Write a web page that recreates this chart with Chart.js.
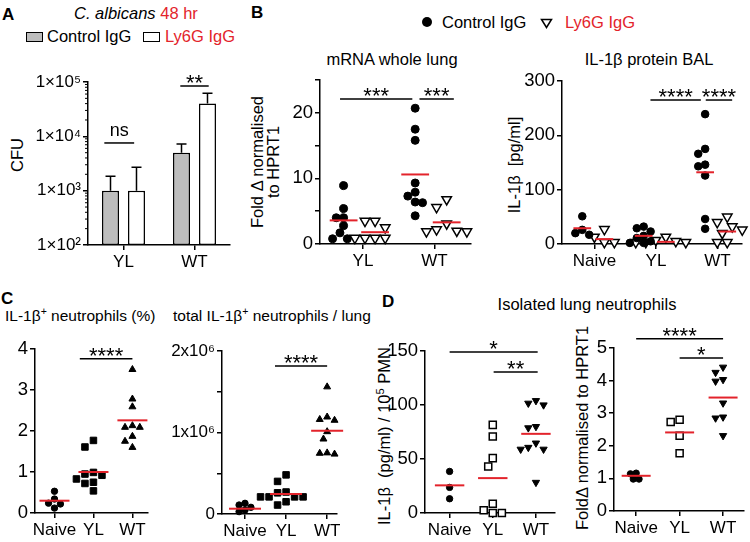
<!DOCTYPE html>
<html lang="en">
<head>
<meta charset="utf-8">
<title>IL-1β neutrophils</title>
<script src="https://cdn.jsdelivr.net/npm/chart.js@4.4.1/dist/chart.umd.min.js"></script>
<style>
  html, body { margin: 0; padding: 0; background: #fff; }
  body { position: relative; width: 750px; height: 542px; overflow: hidden;
         font-family: "Liberation Sans", Arial, sans-serif; font-size: 16.5px; color: #000; }
  canvas { position: absolute; }
  .t { position: absolute; white-space: nowrap; line-height: 1; }
  .c { transform: translateX(-50%); }
  .b { font-weight: bold; font-size: 17px; }
  .red { color: #e3232b; }
  .s { font-size: 15.5px; }
  .sup { font-size: 0.68em; position: relative; top: -0.55em; }
  .rot { position: absolute; white-space: nowrap; line-height: 1; text-align: center;
         transform: translate(-50%, -50%) rotate(-90deg); }
  .box { position: absolute; width: 15px; height: 8px; border: 1.5px solid #000; }
</style>
</head>
<body>
<!-- panel A -->
<div class="t b" style="left:2px;top:6px">A</div>
<div class="t" style="left:74px;top:5px"><i>C. albicans</i> <span class="red">48 hr</span></div>
<div class="box" style="left:26px;top:32px;background:#bdbdbd"></div>
<div class="t" style="left:47px;top:28px">Control IgG</div>
<div class="box" style="left:143px;top:32px;background:#fff"></div>
<div class="t red" style="left:165px;top:28px">Ly6G IgG</div>
<div class="rot" style="left:17px;top:155px">CFU</div>

<!-- panel B -->
<div class="t b" style="left:251px;top:4px">B</div>
<svg style="position:absolute;left:421px;top:16px" width="12" height="12"><circle cx="6" cy="6" r="5" fill="#000"/></svg>
<div class="t" style="left:442px;top:14px">Control IgG</div>
<svg style="position:absolute;left:540px;top:18px" width="13" height="11"><polygon points="1.5,1.5 11.5,1.5 6.5,9.5" fill="#fff" stroke="#000" stroke-width="1.5"/></svg>
<div class="t red" style="left:565px;top:14px">Ly6G IgG</div>
<div class="t c" style="left:392px;top:51px">mRNA whole lung</div>
<div class="t c" style="left:649px;top:51px">IL-1β protein BAL</div>
<div class="rot" style="left:265px;top:162px;line-height:16px">Fold Δ normalised<br>to HPRT1</div>
<div class="rot" style="left:514px;top:165px">IL-1β&nbsp; [pg/ml]</div>

<!-- panel C -->
<div class="t b" style="left:1px;top:290px">C</div>
<div class="t s" style="left:5px;top:308px">IL-1β<span class="sup">+</span> neutrophils (%)</div>
<div class="t s" style="left:173px;top:308px">total IL-1β<span class="sup">+</span> neutrophils / lung</div>

<!-- panel D -->
<div class="t b" style="left:382px;top:293px">D</div>
<div class="t c" style="left:587px;top:296px">Isolated lung neutrophils</div>
<div class="rot" style="left:384px;top:436px">IL-1β&nbsp; (pg/ml) / 10<span class="sup">5</span> PMN</div>
<div class="rot" style="left:582px;top:428px">FoldΔ normalised to HPRT1</div>

<canvas id="chartA"></canvas>
<canvas id="chartBL"></canvas>
<canvas id="chartBR"></canvas>
<canvas id="chartCL"></canvas>
<canvas id="chartCR"></canvas>
<canvas id="chartDL"></canvas>
<canvas id="chartDR"></canvas>

<script>
// ---- data ----
// A: CFU, bar height and top of the error whisker
const aGroups = ['YL', 'WT'];
const aControl = [1000, 5000];
const aControlUpper = [1850, 7200];
const aLy6g = [1000, 40000];
const aLy6gUpper = [2700, 62000];

// B: mRNA whole lung (per group: YL, WT)
const bGroups = ['YL', 'WT'];
const mrnaControl = [[8.9, 5.4, 4.0, 4.0, 2.8, 1.7, 0.8, 0.8], [20.7, 17.5, 15.8, 9.3, 7.9, 7.3, 6.4, 6.3, 4.3]];
const mrnaLy6g = [[3.5, 3.5, 2.5, 0.9, 0.9, 0.9, 0.9], [6.8, 5.6, 3.1, 2.2, 2.0, 1.9, 1.9]];
const mrnaControlMean = [3.6, 10.6];
const mrnaLy6gMean = [1.8, 3.3];

// B: IL-1β protein BAL (Naive, YL, WT)
const balGroups = ['Naive', 'YL', 'WT'];
const balControl = [[51, 26, 20, 17], [32, 29, 23, 15, 11, 5, 2, 2], [239, 175, 166, 146, 143, 126, 46, 28]];
const balLy6g = [[27, 13, 3, 3], [13, 7, 5, 3, 3, 3], [50, 40, 32, 26, 20, 3, 3]];
const balControlMean = [29, 15, 132];
const balLy6gMean = [9, 4, 23];

// C
const cGroups = ['Naive', 'YL', 'WT'];
const pctPos = [[0.53, 0.34, 0.24, 0.22, 0.12], [1.77, 1.61, 0.99, 0.95, 0.92, 0.83, 0.75, 0.72, 0.54], [3.5, 2.78, 2.59, 2.13, 2.09, 2.09, 1.87, 1.75, 1.6]];
const pctPosMean = [0.3, 1.0, 2.26];
const totalPos = [[131000, 110000, 82000, 49000, 29000], [480000, 400000, 270000, 260000, 210000, 210000, 210000, 210000, 150000, 110000], [1560000, 1190000, 1160000, 1150000, 1010000, 920000, 750000, 745000, 735000]];
const totalPosMean = [65000, 245000, 1020000];

// D
const dGroups = ['Naive', 'YL', 'WT'];
const pmnProtein = [[38.5, 23.7, 13.2], [81.6, 70.8, 50.8, 43.1, 8.6, 2.5, 0, 0], [104, 101.6, 100, 80, 78.8, 64.7, 60.7, 59, 59, 28.3]];
const pmnProteinMean = [25.6, 32.3, 73.3];
const pmnMrna = [[1.16, 1.14, 0.98, 0.98], [2.8, 2.73, 2.31, 1.77], [4.41, 4.25, 4.03, 3.98, 3.31, 2.88, 2.85, 2.31]];
const pmnMrnaMean = [1.08, 2.41, 3.48];

// significance bars (x in category units, y in data units)
const aSig = [{ from: -0.27, to: 0.15, y: 7550, text: 'ns' }, { from: 0.8, to: 1.2, y: 84400, text: '**' }];
const mrnaSig = [{ from: -0.32, to: 0.69, y: 22.1, text: '***' }, { from: 0.79, to: 1.27, y: 22.1, text: '***' }];
const balSig = [{ from: 0.91, to: 1.73, y: 265, text: '****' }, { from: 1.81, to: 2.24, y: 265, text: '****' }];
const pctSig = [{ from: 0.65, to: 2.0, y: 3.76, text: '****' }];
const totalSig = [{ from: 0.73, to: 2.0, y: 1816000, text: '****' }];
const proteinSig = [{ from: 0, to: 2.04, y: 149, text: '*' }, { from: 1.02, to: 2.04, y: 130.5, text: '**' }];
const pmnMrnaSig = [{ from: 0, to: 2, y: 5.28, text: '****' }, { from: 1, to: 2, y: 4.69, text: '*' }];

// ---- shared settings ----
const FONT = '"Liberation Sans", Arial, sans-serif';
const RED = '#e3232b';
Chart.defaults.font.family = FONT;
Chart.defaults.color = '#000';

const SUP = '⁰¹²³⁴⁵⁶⁷⁸⁹';
const sup = (n) => String(n).split('').map((d) => SUP[+d]).join('');
const isPow10 = (v) => v > 0 && Math.abs(Math.log10(v) - Math.round(Math.log10(v))) < 1e-9;

const tickOpts = { font: { size: 17 }, color: '#000', padding: 2, autoSkip: false, maxRotation: 0, minRotation: 0 };
const gridOpts = { drawOnChartArea: false, drawTicks: true, tickLength: 5, color: '#000', lineWidth: 1.5 };
const borderOpts = { display: true, color: '#000', width: 1.5 };

const baseOpts = (g) => ({
  responsive: false,
  animation: false,
  events: [],
  layout: { padding: { top: g.pt, right: g.pr, bottom: 0, left: 0 } },
  plugins: { legend: { display: false }, tooltip: { enabled: false } },
});

// markers
const dot = (r) => ({ style: 'circle', r, fill: '#000', bw: 1 });
const openTri = (r) => ({ style: 'triangle', r, fill: '#fff', bw: 1.5, rot: 180 });
const tri = (r, rot = 0) => ({ style: 'triangle', r, fill: '#000', bw: 1, rot });
const square = (r) => ({ style: 'rect', r, fill: '#000', bw: 1 });
const openSquare = (r) => ({ style: 'rect', r, fill: '#fff', bw: 1.5 });

// put the canvas so that the plot area lands on the given box
function place(id, g) {
  const cv = document.getElementById(id);
  const left = g.x - g.yw;
  const top = g.top - g.pt;
  cv.width = g.right + g.pr - left;
  cv.height = g.bottom + g.xh - top;
  cv.style.left = left + 'px';
  cv.style.top = top + 'px';
  return cv;
}

// spread points sideways where they would overlap (no randomness)
function swarm(vals, pxX, pxY, d) {
  const idx = vals.map((_, i) => i).sort((a, b) => vals[b] - vals[a]);
  const placed = [];
  const off = [];
  idx.forEach((i) => {
    const py = vals[i] * pxY;
    for (let k = 0; k < 40; k++) {
      const dx = (k % 2 ? -1 : 1) * Math.ceil(k / 2) * d * 0.5;
      if (placed.every((p) => Math.hypot(p.x - dx, p.y - py) >= d)) {
        placed.push({ x: dx, y: py });
        off[i] = dx / pxX;
        break;
      }
    }
  });
  return off;
}

// ---- plugins ----
const sigBars = (items) => ({
  id: 'sigBars',
  afterDatasetsDraw(chart) {
    const { ctx, scales: { x, y } } = chart;
    ctx.save();
    ctx.strokeStyle = '#000';
    ctx.fillStyle = '#000';
    ctx.lineWidth = 1.5;
    ctx.textAlign = 'center';
    ctx.textBaseline = 'alphabetic';
    items.forEach((s) => {
      const x1 = x.getPixelForValue(s.from);
      const x2 = x.getPixelForValue(s.to);
      const py = y.getPixelForValue(s.y);
      ctx.beginPath();
      ctx.moveTo(x1, py);
      ctx.lineTo(x2, py);
      ctx.stroke();
      const star = s.text !== 'ns';
      ctx.font = (star ? '22px ' : '18px ') + FONT;
      ctx.fillText(s.text, (x1 + x2) / 2, star ? py + 4 : py - 7);
    });
    ctx.restore();
  },
});

const errorBars = {
  id: 'errorBars',
  afterDatasetsDraw(chart) {
    const { ctx, scales: { y } } = chart;
    ctx.save();
    ctx.strokeStyle = '#000';
    ctx.lineWidth = 1.5;
    chart.data.datasets.forEach((ds, i) => {
      chart.getDatasetMeta(i).data.forEach((bar, j) => {
        const top = y.getPixelForValue(ds.upper[j]);
        ctx.beginPath();
        ctx.moveTo(bar.x, bar.y);
        ctx.lineTo(bar.x, top);
        ctx.moveTo(bar.x - 5, top);
        ctx.lineTo(bar.x + 5, top);
        ctx.stroke();
      });
    });
    ctx.restore();
  },
};

const minorTicks = {
  id: 'minorTicks',
  afterDraw(chart) {
    const { ctx, scales: { y } } = chart;
    ctx.save();
    ctx.strokeStyle = '#000';
    ctx.lineWidth = 1;
    y.ticks.forEach((t) => {
      if (isPow10(t.value)) return;
      const p = y.getPixelForValue(t.value);
      ctx.beginPath();
      ctx.moveTo(y.right - 3, p);
      ctx.lineTo(y.right, p);
      ctx.stroke();
    });
    ctx.restore();
  },
};

// ---- charts ----
function barChart() {
  const g = { x: 88, top: 82, bottom: 245, right: 230, yw: 60, pt: 18, pr: 8, xh: 28 };
  const cv = place('chartA', g);
  new Chart(cv, {
    type: 'bar',
    data: {
      labels: aGroups,
      datasets: [
        { label: 'Control IgG', data: aControl, upper: aControlUpper, backgroundColor: '#bdbdbd' },
        { label: 'Ly6G IgG', data: aLy6g, upper: aLy6gUpper, backgroundColor: '#fff' },
      ],
    },
    options: {
      ...baseOpts(g),
      datasets: {
        bar: { borderColor: '#000', borderWidth: 1.5, borderSkipped: false, categoryPercentage: 0.732, barPercentage: 0.654 },
      },
      scales: {
        x: {
          type: 'category',
          offset: true,
          afterFit: (s) => { s.height = g.xh; },
          ticks: tickOpts,
          grid: { ...gridOpts, offset: false },
          border: borderOpts,
        },
        y: {
          type: 'logarithmic',
          min: 100,
          max: 1e5,
          afterFit: (s) => { s.width = g.yw; },
          afterBuildTicks: (s) => {
            const t = [];
            for (let e = 2; e < 5; e++) for (let m = 1; m < 10; m++) t.push({ value: m * 10 ** e });
            t.push({ value: 1e5 });
            s.ticks = t;
          },
          ticks: { ...tickOpts, callback: (v) => (isPow10(v) ? '1×10' + sup(Math.round(Math.log10(v))) : '') },
          grid: { ...gridOpts, tickColor: (c) => (c.tick && isPow10(c.tick.value) ? '#000' : 'rgba(0,0,0,0)') },
          border: borderOpts,
        },
      },
    },
    plugins: [errorBars, minorTicks, sigBars(aSig)],
  });
}

function dotChart(id, g, cats, series, sig) {
  const cv = place(id, g);
  const pxX = (g.right - g.x) / (g.xMax - g.xMin);
  const pxY = (g.bottom - g.top) / (g.yMax - g.yMin);
  const datasets = [];
  series.forEach((s) => {
    const off = swarm(s.values, pxX, pxY, s.m.r * 1.85);
    datasets.push({
      data: s.values.map((v, k) => ({ x: s.group + s.shift + off[k], y: v })),
      pointStyle: s.m.style,
      pointRadius: s.m.r,
      pointRotation: s.m.rot || 0,
      pointBackgroundColor: s.m.fill,
      pointBorderColor: '#000',
      pointBorderWidth: s.m.bw,
      showLine: false,
      clip: false,
      order: 1,
    });
    const c = s.group + s.shift;
    const hw = s.half / pxX;
    datasets.push({
      data: [{ x: c - hw, y: s.mean }, { x: c + hw, y: s.mean }],
      showLine: true,
      borderColor: RED,
      borderWidth: 2,
      pointRadius: 0,
      clip: false,
      order: 0,
    });
  });

  new Chart(cv, {
    type: 'scatter',
    data: { datasets },
    options: {
      ...baseOpts(g),
      scales: {
        x: {
          type: 'linear',
          min: g.xMin,
          max: g.xMax,
          afterFit: (s) => { s.height = g.xh; },
          afterBuildTicks: (s) => { s.ticks = cats.map((_, i) => ({ value: i })); },
          ticks: { ...tickOpts, callback: (v) => cats[v] ?? '' },
          grid: gridOpts,
          border: borderOpts,
        },
        y: {
          type: 'linear',
          min: g.yMin,
          max: g.yMax,
          afterFit: (s) => { s.width = g.yw; },
          ticks: { ...tickOpts, font: { size: g.yFont || 18.5 }, stepSize: g.yStep, callback: g.fmt || ((v) => v) },
          grid: gridOpts,
          border: borderOpts,
        },
      },
    },
    plugins: [sigBars(sig)],
  });
}

// per-group series helper
const groupSeries = (values, means, shift, half, m) =>
  values.map((v, i) => ({ group: i, values: v, mean: means[i], shift, half, m }));

barChart();

dotChart('chartBL',
  { x: 320, top: 80, bottom: 244, right: 472, yw: 40, pt: 14, pr: 6, xh: 28,
    xMin: -0.6, xMax: 1.51, yMin: 0, yMax: 25, yStep: 5, fmt: (v) => (v % 10 === 0 ? v : '') },
  bGroups,
  [...groupSeries(mrnaControl, mrnaControlMean, -0.27, 14, dot(4)),
   ...groupSeries(mrnaLy6g, mrnaLy6gMean, 0.17, 14, openTri(5.5))],
  mrnaSig);

dotChart('chartBR',
  { x: 562, top: 81, bottom: 244, right: 745, yw: 46, pt: 14, pr: 4, xh: 28,
    xMin: -0.53, xMax: 2.4, yMin: 0, yMax: 300, yStep: 100 },
  balGroups,
  [...groupSeries(balControl, balControlMean, -0.2, 9, dot(3.8)),
   ...groupSeries(balLy6g, balLy6gMean, 0.16, 9, openTri(5.5))],
  balSig);

const cMarks = [dot(3.2), square(4.6), tri(4)];
dotChart('chartCL',
  { x: 35, top: 349, bottom: 513, right: 148, yw: 30, pt: 14, pr: 6, xh: 28,
    xMin: -0.5, xMax: 2.4, yMin: 0, yMax: 4, yStep: 1 },
  cGroups,
  pctPos.map((v, i) => ({ group: i, values: v, mean: pctPosMean[i], shift: 0, half: 15, m: cMarks[i] })),
  pctSig);

dotChart('chartCR',
  { x: 222, top: 351, bottom: 514, right: 337, yw: 52, pt: 14, pr: 8, xh: 28, yFont: 17,
    xMin: -0.56, xMax: 2.24, yMin: 0, yMax: 2000000, yStep: 500000,
    fmt: (v) => (v === 0 ? '0' : v % 1000000 === 0 ? v / 1000000 + 'x10⁶' : '') },
  cGroups,
  totalPos.map((v, i) => ({ group: i, values: v, mean: totalPosMean[i], shift: 0, half: 16, m: cMarks[i] })),
  totalSig);

const dMarks = [dot(3.2), openSquare(5), tri(4.2, 180)];
dotChart('chartDL',
  { x: 425, top: 351, bottom: 513, right: 557, yw: 40, pt: 18, pr: 4, xh: 28,
    xMin: -0.57, xMax: 2.43, yMin: 0, yMax: 150, yStep: 50 },
  dGroups,
  pmnProtein.map((v, i) => ({ group: i, values: v, mean: pmnProteinMean[i], shift: 0, half: 15, m: dMarks[i] })),
  proteinSig);

dotChart('chartDR',
  { x: 614, top: 348, bottom: 511, right: 748, yw: 22, pt: 28, pr: 2, xh: 28,
    xMin: -0.51, xMax: 2.47, yMin: 0, yMax: 5, yStep: 1 },
  dGroups,
  pmnMrna.map((v, i) => ({ group: i, values: v, mean: pmnMrnaMean[i], shift: 0, half: 15, m: dMarks[i] })),
  pmnMrnaSig);
</script>
</body>
</html>
